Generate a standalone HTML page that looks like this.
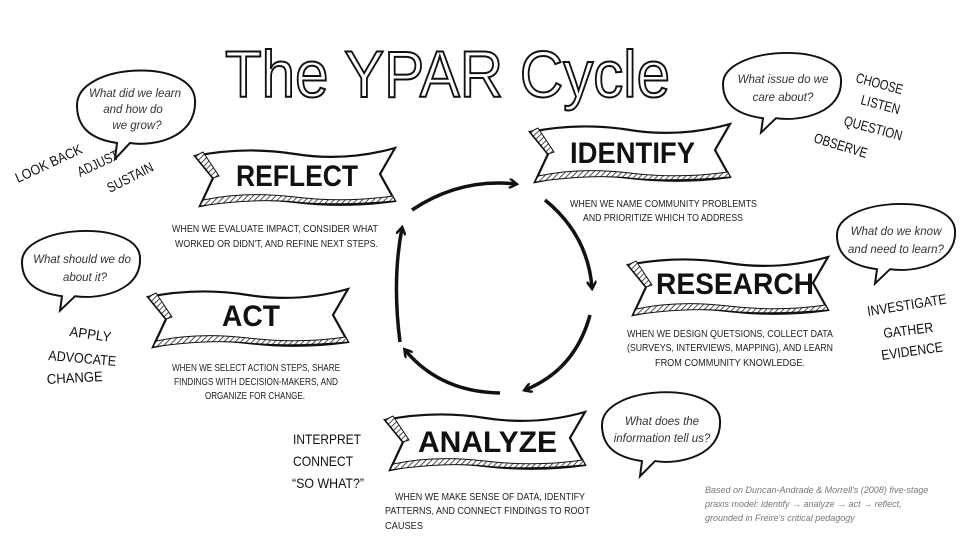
<!DOCTYPE html>
<html><head><meta charset="utf-8"><style>
html,body{margin:0;padding:0;background:#fff}
svg{display:block}
.hand{font-family:"Liberation Sans",sans-serif;fill:#111}
.desc{font-family:"Liberation Sans",sans-serif;font-size:10px;fill:#222}
.q{font-family:"Liberation Sans",sans-serif;font-style:italic;font-size:11.5px;fill:#333;text-anchor:middle}
.ban{font-family:"Liberation Sans",sans-serif;font-weight:bold;fill:#111}
</style></head><body>
<svg width="980" height="554" viewBox="0 0 980 554" xmlns="http://www.w3.org/2000/svg">
<defs>
<pattern id="h" width="4" height="4" patternUnits="userSpaceOnUse" patternTransform="rotate(45)">
<rect width="4" height="4" fill="#fff"/><line x1="0" y1="0" x2="0" y2="4" stroke="#222" stroke-width="1.6"/></pattern>
<g id="banner">
<path d="M0,10 Q50,0 100,8 T200,2 L185,28 L200,55 Q150,62 100,56 T5,60 L18,32 Z" fill="#fff" stroke="#111" stroke-width="2.2"/>
<path d="M5,60 Q60,52 100,56 T200,55 L198,50 Q150,57 100,51 T8,54 Z" fill="url(#h)" stroke="#111" stroke-width="1"/>
<path d="M0,10 L8,6 L24,30 L18,32 Z" fill="url(#h)" stroke="#111" stroke-width="1"/>
</g>
<g id="bub">
<path d="M-58,0 C-58,-42 58,-48 60,-5 C62,32 20,42 -5,38 L-20,54 L-18,38 C-45,34 -58,22 -58,0 Z" fill="#fff" stroke="#111" stroke-width="2"/>
</g>
<marker id="ar" markerWidth="10" markerHeight="10" refX="7" refY="5" orient="auto" markerUnits="userSpaceOnUse">
<path d="M0,0 L8,5 L0,10" fill="none" stroke="#111" stroke-width="2.5"/></marker>
</defs>

<text x="225" y="97" textLength="445" lengthAdjust="spacingAndGlyphs" font-family="Liberation Sans,sans-serif" font-size="66" fill="#fff" stroke="#111" stroke-width="2">The YPAR Cycle</text>

<g fill="none" stroke="#111" stroke-width="3.5" marker-end="url(#ar)">
<path d="M412,210 Q460,178 516,184"/>
<path d="M545,200 Q588,235 592,288"/>
<path d="M590,315 Q575,370 525,390"/>
<path d="M500,393 Q440,392 405,350"/>
<path d="M400,342 Q392,280 402,228"/>
</g>

<use href="#banner" x="195" y="146"/><text class="ban" x="236" y="186" font-size="30" textLength="122" lengthAdjust="spacingAndGlyphs">REFLECT</text>
<use href="#banner" x="530" y="122"/><text class="ban" x="570" y="163" font-size="30" textLength="125" lengthAdjust="spacingAndGlyphs">IDENTIFY</text>
<use href="#banner" x="628" y="255"/><text class="ban" x="656" y="294" font-size="30" textLength="158" lengthAdjust="spacingAndGlyphs">RESEARCH</text>
<use href="#banner" x="148" y="287"/><text class="ban" x="222" y="326" font-size="30" textLength="58" lengthAdjust="spacingAndGlyphs">ACT</text>
<use href="#banner" x="385" y="410"/><text class="ban" x="418" y="452" font-size="30" textLength="139" lengthAdjust="spacingAndGlyphs">ANALYZE</text>

<g class="desc">
<text x="172" y="232" textLength="206" lengthAdjust="spacingAndGlyphs">WHEN WE EVALUATE IMPACT, CONSIDER WHAT</text>
<text x="175" y="247" textLength="203" lengthAdjust="spacingAndGlyphs">WORKED OR DIDN'T, AND REFINE NEXT STEPS.</text>
<text x="570" y="207" textLength="187" lengthAdjust="spacingAndGlyphs">WHEN WE NAME COMMUNITY PROBLEMTS</text>
<text x="583" y="221" textLength="160" lengthAdjust="spacingAndGlyphs">AND PRIORITIZE WHICH TO ADDRESS</text>
<text x="627" y="337" textLength="206" lengthAdjust="spacingAndGlyphs">WHEN WE DESIGN QUETSIONS, COLLECT DATA</text>
<text x="627" y="351" textLength="206" lengthAdjust="spacingAndGlyphs">(SURVEYS, INTERVIEWS, MAPPING), AND LEARN</text>
<text x="655" y="366" textLength="150" lengthAdjust="spacingAndGlyphs">FROM COMMUNITY KNOWLEDGE.</text>
<text x="172" y="371" textLength="168" lengthAdjust="spacingAndGlyphs">WHEN WE SELECT ACTION STEPS, SHARE</text>
<text x="174" y="385" textLength="164" lengthAdjust="spacingAndGlyphs">FINDINGS WITH DECISION-MAKERS, AND</text>
<text x="205" y="399" textLength="100" lengthAdjust="spacingAndGlyphs">ORGANIZE FOR CHANGE.</text>
<text x="395" y="500" textLength="190" lengthAdjust="spacingAndGlyphs">WHEN WE MAKE SENSE OF DATA, IDENTIFY</text>
<text x="385" y="514" textLength="205" lengthAdjust="spacingAndGlyphs">PATTERNS, AND CONNECT FINDINGS TO ROOT</text>
<text x="385" y="529" textLength="38" lengthAdjust="spacingAndGlyphs">CAUSES</text>
</g>

<use href="#bub" transform="translate(135,105)"/>
<text class="q" x="135" y="97">What did we learn</text><text class="q" x="133" y="113">and how do</text><text class="q" x="137" y="129">we grow?</text>
<use href="#bub" transform="translate(80,262) scale(1,0.9)"/>
<text class="q" x="82" y="263">What should we do</text><text class="q" x="85" y="281">about it?</text>
<use href="#bub" transform="translate(781,84) scale(1,0.9)"/>
<text class="q" x="783" y="83">What issue do we</text><text class="q" x="783" y="101">care about?</text>
<use href="#bub" transform="translate(895,235) scale(1,0.9)"/>
<text class="q" x="896" y="235">What do we know</text><text class="q" x="896" y="253">and need to learn?</text>
<use href="#bub" transform="translate(660,425) scale(1,0.95)"/>
<text class="q" x="662" y="425">What does the</text><text class="q" x="662" y="442">information tell us?</text>

<g class="hand" font-size="14">
<text transform="translate(18,183) rotate(-25)" textLength="72" lengthAdjust="spacingAndGlyphs">LOOK BACK</text>
<text transform="translate(80,177) rotate(-25)" textLength="44" lengthAdjust="spacingAndGlyphs">ADJUST</text>
<text transform="translate(110,193) rotate(-27)" textLength="50" lengthAdjust="spacingAndGlyphs">SUSTAIN</text>
<text transform="translate(855,82) rotate(15)" textLength="48" lengthAdjust="spacingAndGlyphs">CHOOSE</text>
<text transform="translate(860,104) rotate(15)" textLength="40" lengthAdjust="spacingAndGlyphs">LISTEN</text>
<text transform="translate(843,125) rotate(15)" textLength="60" lengthAdjust="spacingAndGlyphs">QUESTION</text>
<text transform="translate(813,142) rotate(17)" textLength="55" lengthAdjust="spacingAndGlyphs">OBSERVE</text>
<text transform="translate(868,316) rotate(-9)" textLength="80" lengthAdjust="spacingAndGlyphs">INVESTIGATE</text>
<text transform="translate(884,338) rotate(-7)" textLength="50" lengthAdjust="spacingAndGlyphs">GATHER</text>
<text transform="translate(882,360) rotate(-8)" textLength="62" lengthAdjust="spacingAndGlyphs">EVIDENCE</text>
<text transform="translate(69,336) rotate(8)" textLength="42" lengthAdjust="spacingAndGlyphs">APPLY</text>
<text transform="translate(48,360) rotate(5)" textLength="68" lengthAdjust="spacingAndGlyphs">ADVOCATE</text>
<text transform="translate(47,384) rotate(-3)" textLength="56" lengthAdjust="spacingAndGlyphs">CHANGE</text>
<text x="293" y="444" textLength="68" lengthAdjust="spacingAndGlyphs">INTERPRET</text>
<text x="293" y="466" textLength="60" lengthAdjust="spacingAndGlyphs">CONNECT</text>
<text x="292" y="488" textLength="72" lengthAdjust="spacingAndGlyphs">“SO WHAT?”</text>
</g>

<g font-family="Liberation Sans,sans-serif" font-style="italic" font-size="9" fill="#777">
<text x="705" y="493">Based on Duncan-Andrade &amp; Morrell's (2008) five-stage</text>
<text x="705" y="507">praxis model: identify → analyze → act → reflect,</text>
<text x="705" y="521">grounded in Freire's critical pedagogy</text>
</g>
</svg>
</body></html>
